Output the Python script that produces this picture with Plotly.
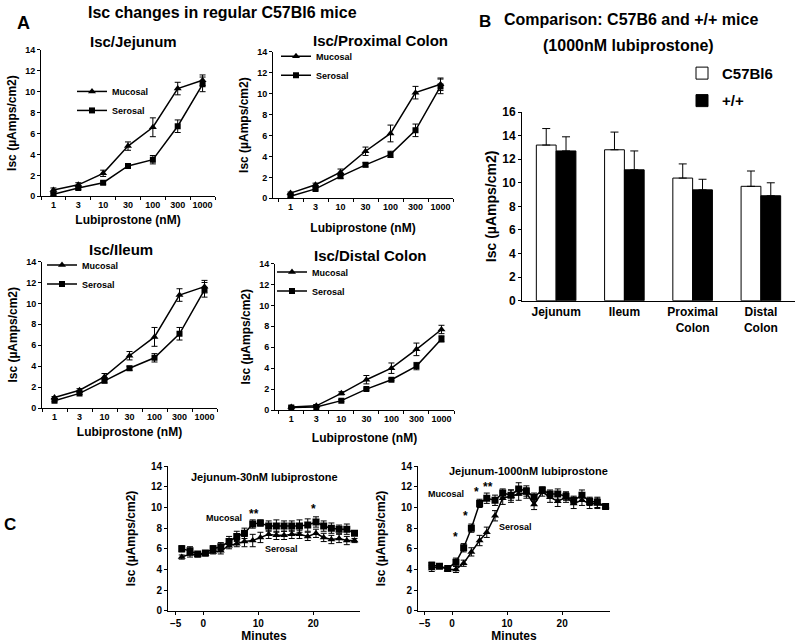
import plotly.graph_objects as go

W, H = 800, 644
FONT = "Liberation Sans, Arial, sans-serif"

# PANEL A DATA -----------------------------------------------------------------
doses = ["1", "3", "10", "30", "100", "300", "1000"]

jej_muc = [0.6, 1.1, 2.2, 4.8, 6.6, 10.3, 11.1]
jej_muc_err = [0.2, 0.2, 0.3, 0.4, 0.9, 0.6, 0.5]
jej_ser = [0.2, 0.8, 1.3, 2.9, 3.5, 6.7, 10.7]
jej_ser_err = [0.1, 0.15, 0.15, 0.2, 0.4, 0.6, 0.7]
jej_star_x = ["30", "100", "300"]
jej_star_y = [5.9, 8.2, 11.5]

prox_muc = [0.5, 1.3, 2.5, 4.5, 6.2, 10.1, 10.9]
prox_muc_err = [0.1, 0.15, 0.3, 0.4, 0.8, 0.6, 0.6]
prox_ser = [0.2, 0.9, 2.1, 3.2, 4.2, 6.5, 10.7]
prox_ser_err = [0.1, 0.1, 0.2, 0.2, 0.3, 0.6, 0.7]
prox_star_x = ["100", "300"]
prox_star_y = [7.6, 11.3]

ile_muc = [1.0, 1.7, 3.0, 5.0, 6.8, 10.8, 11.6]
ile_muc_err = [0.1, 0.15, 0.3, 0.4, 0.9, 0.6, 0.6]
ile_ser = [0.7, 1.4, 2.6, 3.8, 4.8, 7.1, 11.3]
ile_ser_err = [0.1, 0.1, 0.2, 0.2, 0.4, 0.6, 0.7]
ile_star_x = ["100", "300"]
ile_star_y = [8.4, 12.3]

dist_muc = [0.3, 0.4, 1.6, 2.9, 4.0, 5.8, 7.7]
dist_muc_err = [0.1, 0.1, 0.15, 0.4, 0.5, 0.6, 0.4]
dist_ser = [0.25, 0.3, 0.9, 2.0, 2.9, 4.2, 6.8]
dist_ser_err = [0.05, 0.05, 0.1, 0.1, 0.1, 0.35, 0.3]
dist_star_x = ["300"]
dist_star_y = [7.7]

# PANEL B DATA -----------------------------------------------------------------
segments = ["Jejunum", "Ileum", "Proximal<br>Colon", "Distal<br>Colon"]
c57_vals = [13.2, 12.8, 10.4, 9.7]
c57_err = [1.4, 1.5, 1.2, 1.3]
wt_vals = [12.7, 11.1, 9.4, 8.9]
wt_err = [1.2, 1.6, 0.9, 1.1]

# PANEL C DATA -----------------------------------------------------------------
t30 = [-3.9, -2.4, -1.0, 0.4, 1.8, 3.2, 4.7, 6.1, 7.5, 9.0, 10.4, 11.9,
       13.3, 14.7, 16.1, 17.5, 19.0, 20.5, 21.9, 23.3, 24.7, 26.1, 27.5]
c30_muc = [6.0, 5.8, 5.5, 5.6, 6.0, 6.2, 6.7, 7.2, 7.5, 8.4, 8.5, 8.2,
           8.2, 8.2, 8.2, 8.2, 8.3, 8.6, 8.2, 8.0, 7.9, 7.9, 7.5]
c30_muc_err = [0.3, 0.4, 0.2, 0.2, 0.3, 0.4, 0.5, 0.5, 0.5, 0.4, 0.3, 0.5,
               0.6, 0.5, 0.5, 0.6, 0.6, 0.5, 0.5, 0.5, 0.4, 0.5, 0.2]
c30_ser = [5.2, 5.5, 5.4, 5.5, 5.7, 5.8, 6.3, 6.5, 6.7, 6.8, 7.1, 7.4,
           7.3, 7.3, 7.4, 7.4, 7.2, 7.5, 7.1, 6.9, 7.0, 6.8, 6.8]
c30_ser_err = [0.2, 0.3, 0.2, 0.2, 0.2, 0.3, 0.3, 0.3, 0.5, 0.6, 0.5, 0.4,
               0.4, 0.4, 0.4, 0.4, 0.4, 0.4, 0.4, 0.4, 0.4, 0.4, 0.2]
c30_star_x = [9.3, 20.0]
c30_star_y = [9.4, 9.9]
c30_star_txt = ["**", "*"]

t1000 = [-3.7, -2.3, -0.8, 0.7, 2.1, 3.5, 5.0, 6.3, 7.8, 9.2, 10.7, 12.1,
         13.5, 14.9, 16.4, 17.8, 19.2, 20.7, 22.1, 23.6, 25.0, 26.4, 27.9]
c1000_muc = [4.4, 4.3, 4.1, 4.7, 6.1, 8.0, 10.4, 10.9, 10.7, 11.4, 11.2, 11.8,
             11.6, 11.0, 11.7, 11.3, 11.3, 11.1, 10.7, 11.2, 10.6, 10.5, 10.1]
c1000_muc_err = [0.3, 0.2, 0.2, 0.4, 0.4, 0.4, 0.4, 0.5, 0.5, 0.4, 0.5, 0.6,
                 0.5, 0.4, 0.3, 0.4, 0.5, 0.4, 0.4, 0.5, 0.4, 0.5, 0.2]
c1000_ser = [4.1, 4.3, 4.0, 4.0, 4.6, 5.7, 6.8, 7.6, 9.2, 10.9, 11.1, 11.3,
             11.4, 10.3, 11.5, 11.0, 10.6, 11.0, 10.4, 10.7, 10.4, 10.4, 10.1]
c1000_ser_err = [0.3, 0.2, 0.2, 0.3, 0.3, 0.4, 0.5, 0.5, 0.5, 0.6, 0.6, 0.6,
                 0.5, 0.5, 0.4, 0.5, 0.5, 0.5, 0.5, 0.5, 0.5, 0.5, 0.2]
c1000_star_x = [0.7, 2.4, 4.4, 6.5]
c1000_star_y = [7.1, 9.2, 11.5, 12.0]
c1000_star_txt = ["*", "*", "*", "**"]


# the photographed page comes out slightly squeezed vertically, so pixel
# targets in y are mapped back before being turned into paper fractions
def py_fig(py):
    return (py - 8.3) / 0.975


def xdom(a, b):
    return [a / W, b / W]


def ydom(top, bottom):
    return [1 - py_fig(bottom) / H, 1 - py_fig(top) / H]


def ypaper(py):
    return 1 - py_fig(py) / H


def bold(size):
    return dict(family=FONT, size=size, color="black", weight="bold")


def axis(dom, rng, tsize, title="", tfont=12, standoff=4, **kw):
    d = dict(
        domain=dom, range=rng, showline=True, linecolor="black", linewidth=1,
        ticks="outside", ticklen=3, tickcolor="black", tickwidth=1,
        showgrid=False, zeroline=False, tickfont=bold(tsize), tickangle=0,
        title=dict(text=title, font=bold(tfont), standoff=standoff),
    )
    d.update(kw)
    return d


fig = go.Figure()


# dose response panel: mucosal triangles and serosal squares
def dose_panel(n, muc, muc_err, ser, ser_err, legend):
    xa, ya = "x" + str(n), "y" + str(n)
    fig.add_trace(go.Scatter(
        x=doses, y=muc, mode="lines+markers", name="Mucosal", xaxis=xa, yaxis=ya,
        line=dict(color="black", width=1.5),
        marker=dict(symbol="triangle-up", size=7, color="black"),
        error_y=dict(type="data", array=muc_err, color="black", thickness=1, width=3),
        legend=legend,
    ))
    fig.add_trace(go.Scatter(
        x=doses, y=ser, mode="lines+markers", name="Serosal", xaxis=xa, yaxis=ya,
        line=dict(color="black", width=1.5),
        marker=dict(symbol="square", size=6, color="black"),
        error_y=dict(type="data", array=ser_err, color="black", thickness=1, width=3),
        legend=legend,
    ))


dose_panel(1, jej_muc, jej_muc_err, jej_ser, jej_ser_err, "legend")
dose_panel(2, prox_muc, prox_muc_err, prox_ser, prox_ser_err, "legend2")
dose_panel(3, ile_muc, ile_muc_err, ile_ser, ile_ser_err, "legend3")
dose_panel(4, dist_muc, dist_muc_err, dist_ser, dist_ser_err, "legend4")

# comparison bars
fig.add_trace(go.Bar(
    x=segments, y=c57_vals, name="C57Bl6", xaxis="x5", yaxis="y5",
    marker=dict(color="white", line=dict(color="black", width=1)),
    error_y=dict(type="data", array=c57_err, arrayminus=[0] * 4, symmetric=False,
                 color="black", thickness=1, width=4),
    legend="legend5", legendgroup="c57",
))
fig.add_trace(go.Bar(
    x=segments, y=wt_vals, name="+/+", xaxis="x5", yaxis="y5",
    marker=dict(color="black", line=dict(color="black", width=1)),
    error_y=dict(type="data", array=wt_err, arrayminus=[0] * 4, symmetric=False,
                 color="black", thickness=1, width=4),
    legend="legend5", legendgroup="wt",
))


# time course panels
def time_panel(n, t, muc, muc_err, ser, ser_err):
    xa, ya = "x" + str(n), "y" + str(n)
    fig.add_trace(go.Scatter(
        x=t, y=ser, mode="lines+markers", name="Serosal", xaxis=xa, yaxis=ya,
        line=dict(color="black", width=1.5),
        marker=dict(symbol="triangle-up", size=7, color="black"),
        error_y=dict(type="data", array=ser_err, color="black", thickness=1, width=3),
        showlegend=False,
    ))
    fig.add_trace(go.Scatter(
        x=t, y=muc, mode="lines+markers", name="Mucosal", xaxis=xa, yaxis=ya,
        line=dict(color="black", width=1.5),
        marker=dict(symbol="square", size=7, color="black"),
        error_y=dict(type="data", array=muc_err, color="black", thickness=1, width=3),
        showlegend=False,
    ))


time_panel(6, t30, c30_muc, c30_muc_err, c30_ser, c30_ser_err)
time_panel(7, t1000, c1000_muc, c1000_muc_err, c1000_ser, c1000_ser_err)

ylab = "Isc (\u00b5Amps/cm2)"
xlab = "Lubiprostone (nM)"
dose_ticks = dict(type="category", tickson="boundaries")
ticks14 = dict(tickvals=list(range(0, 15, 2)))
min_ticks = dict(tickvals=[-5, 0, 10, 20])

layout = dict(
    width=W, height=H, margin=dict(l=0, r=0, t=0, b=0),
    plot_bgcolor="white", paper_bgcolor="white",
    font=dict(family=FONT, color="black"),
    barmode="group", bargap=0.42, bargroupgap=0,
    xaxis=axis(xdom(41, 215), [-0.5, 6.5], 9, xlab, 12, 6, **dose_ticks),
    yaxis=axis(ydom(51, 197), [0, 14], 9, ylab, 12, 5, anchor="x", **ticks14),
    xaxis2=axis(xdom(273, 453), [-0.7, 6.5], 9, xlab, 12, 12, anchor="y2", **dose_ticks),
    yaxis2=axis(ydom(53, 199), [0, 14], 9, ylab, 12, 5, anchor="x2", **ticks14),
    xaxis3=axis(xdom(42, 217), [-0.5, 6.5], 9, xlab, 12, 6, anchor="y3", **dose_ticks),
    yaxis3=axis(ydom(262, 408), [0, 14], 9, ylab, 12, 5, anchor="x3", **ticks14),
    xaxis4=axis(xdom(275, 454), [-0.65, 6.5], 9, xlab, 12, 10, anchor="y4", **dose_ticks),
    yaxis4=axis(ydom(264, 410), [0, 14], 9, ylab, 12, 5, anchor="x4", **ticks14),
    xaxis5=axis(xdom(522, 795), [-0.5, 3.5], 12, anchor="y5", ticks=""),
    yaxis5=axis(ydom(113, 301), [0, 16], 12, ylab, 14, 2, anchor="x5",
                tickvals=list(range(0, 17, 2))),
    xaxis6=axis(xdom(168, 360), [-6.4, 28.5], 10, "Minutes", 12, 0, anchor="y6", **min_ticks),
    yaxis6=axis(ydom(466, 610), [0, 14], 10, ylab, 12, 12, anchor="x6", **ticks14),
    xaxis7=axis(xdom(418, 610), [-6.2, 28.7], 10, "Minutes", 12, 0, anchor="y7", **min_ticks),
    yaxis7=axis(ydom(466, 610), [0, 14], 10, ylab, 12, 12, anchor="x7", **ticks14),
)

small_leg = dict(xanchor="left", yanchor="top", bgcolor="rgba(0,0,0,0)",
                 font=bold(9), tracegroupgap=0, itemwidth=30)
layout["legend"] = dict(small_leg, x=72 / W, y=ypaper(78))
layout["legend2"] = dict(small_leg, x=276 / W, y=ypaper(43))
layout["legend3"] = dict(small_leg, x=42 / W, y=ypaper(251))
layout["legend4"] = dict(small_leg, x=272 / W, y=ypaper(258))
layout["legend5"] = dict(small_leg, x=682 / W, y=ypaper(58), font=bold(15),
                         tracegroupgap=5)

fig.update_layout(**layout)


def note(text, x, y, size, **kw):
    fig.add_annotation(text=text, x=x, y=y, showarrow=False, font=bold(size), **kw)


def paper_note(text, px, py, size):
    note(text, px / W, ypaper(py), size, xref="paper", yref="paper",
         xanchor="center", yanchor="middle")


paper_note("A", 23, 24, 18)
paper_note("B", 485, 23, 17)
paper_note("C", 10, 524, 17)
paper_note("Isc changes in regular C57Bl6 mice", 222, 14, 16)
paper_note("Isc/Jejunum", 133, 43, 15)
paper_note("Isc/Proximal Colon", 380, 42, 15)
paper_note("Isc/Ileum", 121, 250, 15)
paper_note("Isc/Distal Colon", 370, 256, 15)
paper_note("Comparison: C57B6 and +/+ mice", 631, 21, 16)
paper_note("(1000nM lubiprostone)", 628, 47, 16)
paper_note("Jejunum-30nM lubiprostone", 264, 477, 11)
paper_note("Jejunum-1000nM lubiprostone", 528, 471, 11)

# significance stars
for n, xs, ys in [(1, jej_star_x, jej_star_y), (2, prox_star_x, prox_star_y),
                  (3, ile_star_x, ile_star_y), (4, dist_star_x, dist_star_y)]:
    for sx, sy in zip(xs, ys):
        note("*", sx, sy, 12, xref="x" + str(n), yref="y" + str(n))
for sx, sy, st in zip(c30_star_x, c30_star_y, c30_star_txt):
    note(st, sx, sy, 12, xref="x6", yref="y6")
for sx, sy, st in zip(c1000_star_x, c1000_star_y, c1000_star_txt):
    note(st, sx, sy, 12, xref="x7", yref="y7")

note("Mucosal", 3.7, 9.0, 9, xref="x6", yref="y6")
note("Serosal", 14.3, 6.0, 9, xref="x6", yref="y6")
note("Mucosal", -1.1, 11.3, 9, xref="x7", yref="y7")
note("Serosal", 11.5, 8.1, 9, xref="x7", yref="y7")

# strip page margins so the figure fills the 800x644 window exactly
page_css = (
    "document.documentElement.style.margin = '0';"
    "document.documentElement.style.padding = '0';"
    "document.documentElement.style.overflow = 'hidden';"
    "document.body.style.margin = '0';"
    "document.body.style.padding = '0';"
    "document.body.style.overflow = 'hidden';"
)
fig.write_html("out.html", post_script=page_css,
               config={"displayModeBar": False})
